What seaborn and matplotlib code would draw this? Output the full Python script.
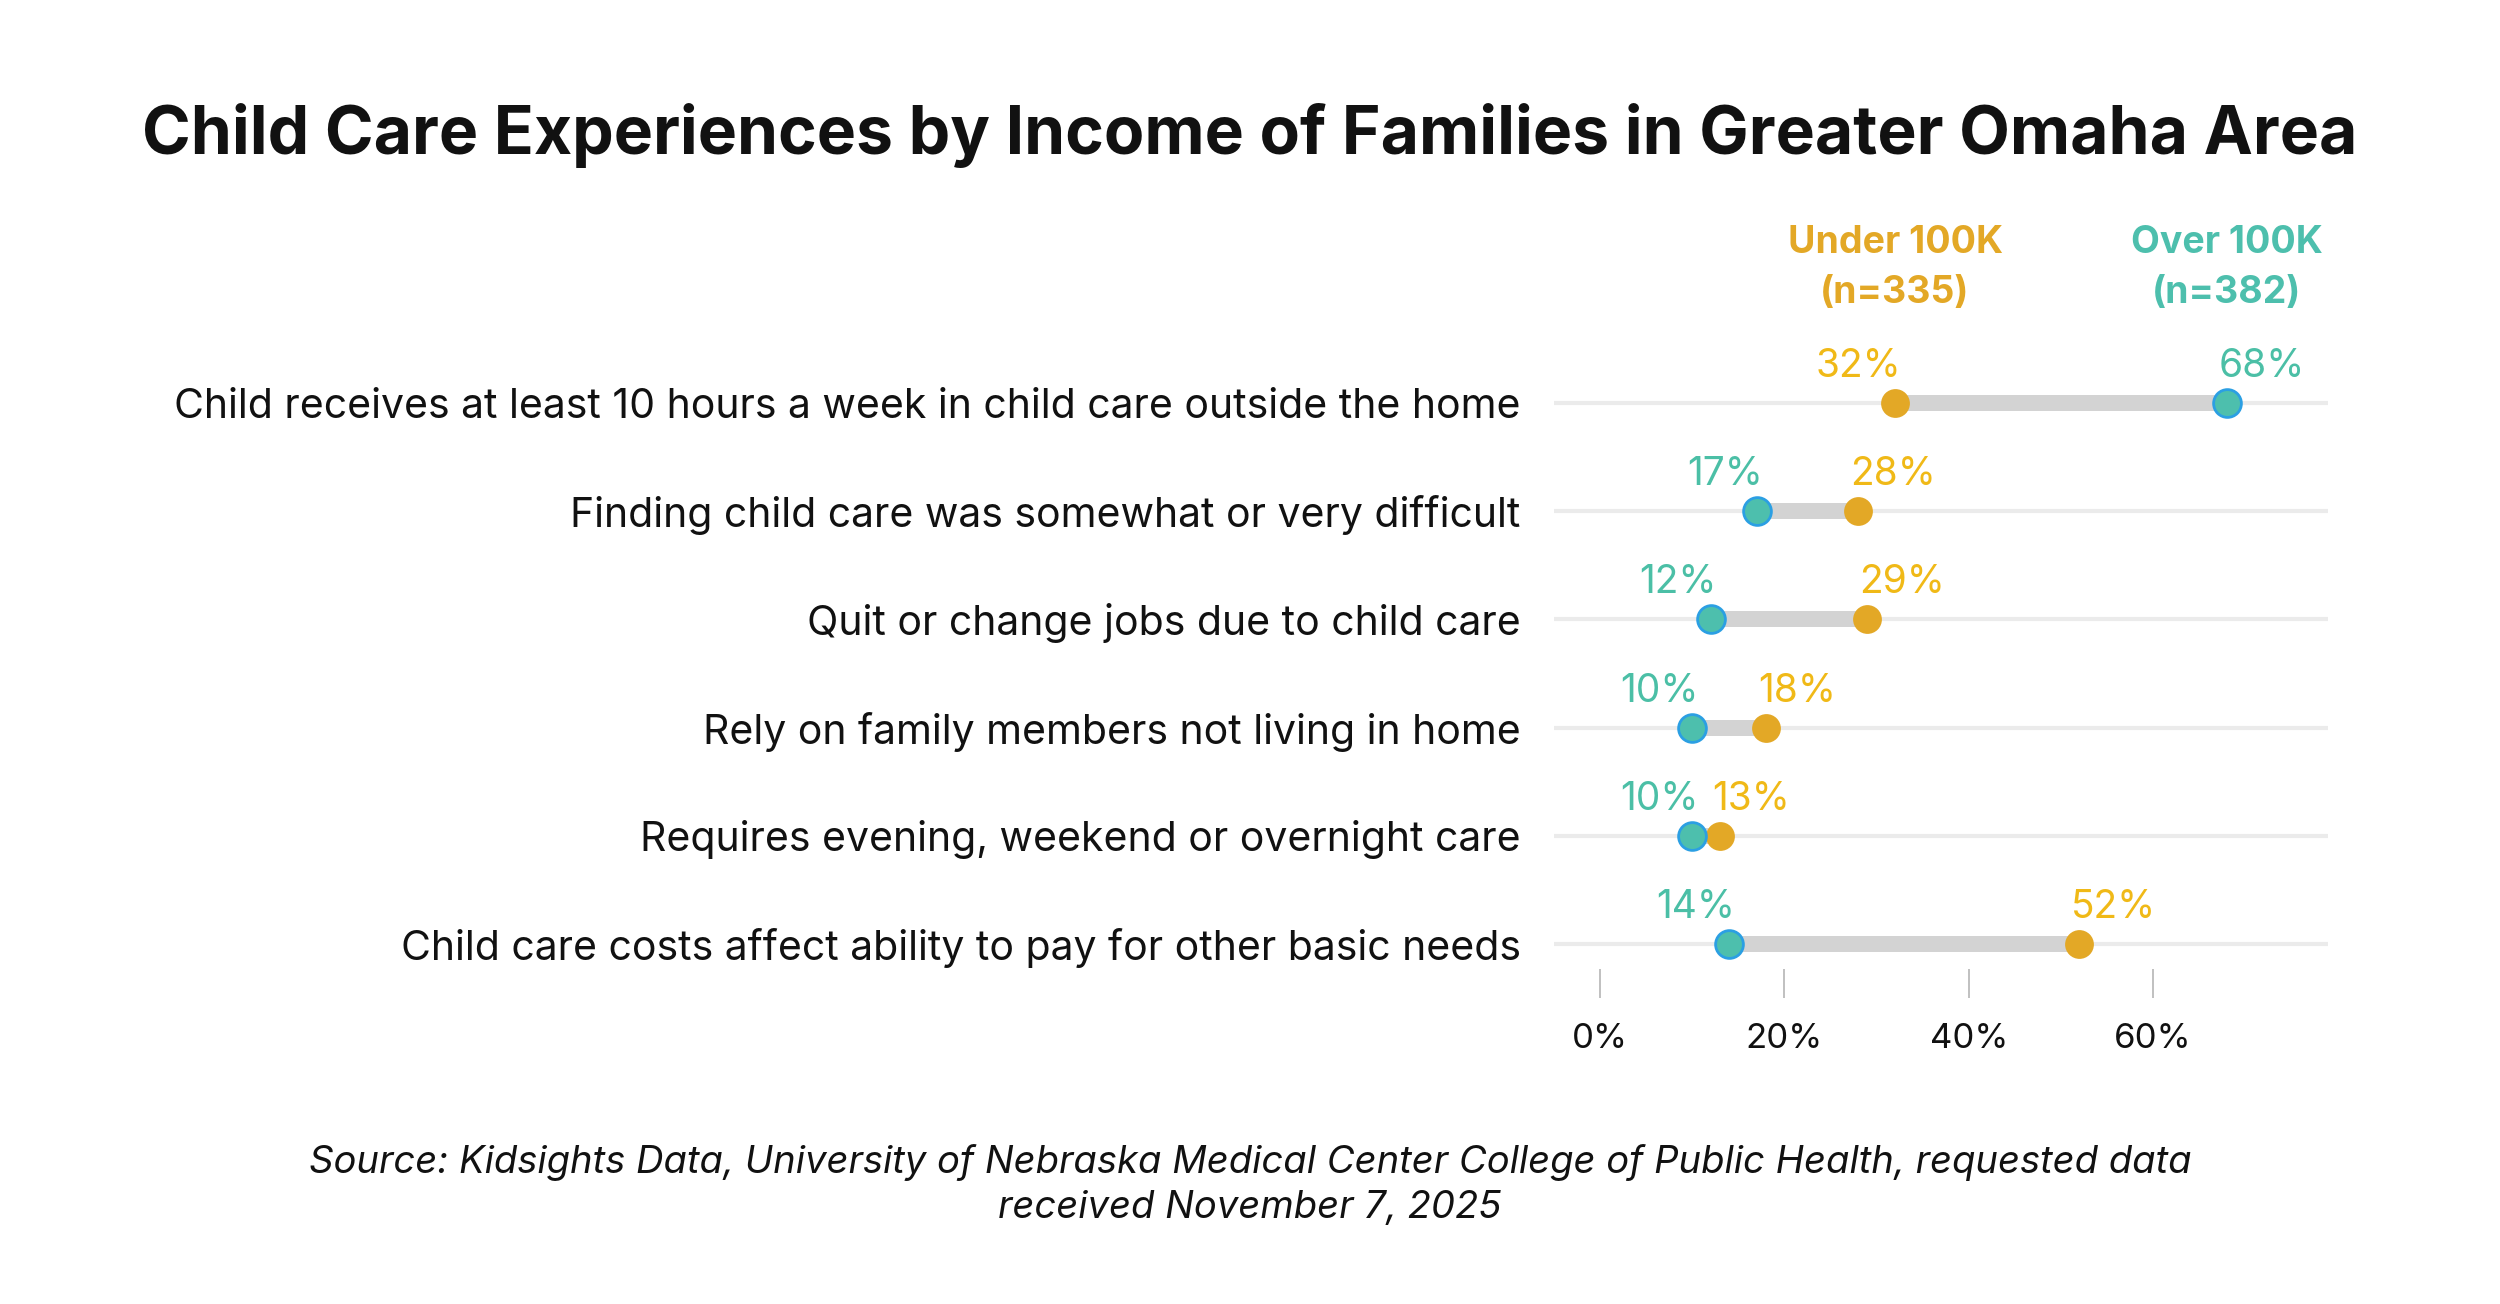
import matplotlib
matplotlib.use("Agg")
import matplotlib.pyplot as plt
import seaborn as sns
import pandas as pd
import numpy as np

categories = [
    "Child receives at least 10 hours a week in child care outside the home",
    "Finding child care was somewhat or very difficult",
    "Quit or change jobs due to child care",
    "Rely on family members not living in home",
    "Requires evening, weekend or overnight care",
    "Child care costs affect ability to pay for other basic needs",
]
under_100k = [32, 28, 29, 18, 13, 52]
over_100k = [68, 17, 12, 10, 10, 14]
group_names = ["Under 100K\n(n=335)", "Over 100K\n(n=382)"]
x_ticks = [0, 20, 40, 60]
tick_labels = ["0%", "20%", "40%", "60%"]
title = "Child Care Experiences by Income of Families in Greater Omaha Area"
source = ("Source: Kidsights Data, University of Nebraska Medical Center College of Public Health, requested data\n"
          "received November 7, 2025")

GOLD = "#e3a826"
GOLD_TXT = "#f0b917"
TEAL = "#4dbfad"
TEAL_TXT = "#4bbfa6"
EDGE = "#2b9fe3"

sns.set_theme(style="white")
plt.rcParams["font.family"] = ["Inter", "DejaVu Sans"]

df = pd.DataFrame({"cat": categories, "under": under_100k, "over": over_100k})
long = pd.concat([
    pd.DataFrame({"cat": categories, "val": under_100k, "grp": "under"}),
    pd.DataFrame({"cat": categories, "val": over_100k, "grp": "over"}),
])

fig = plt.figure(figsize=(25, 13.04), dpi=100)
ax = fig.add_axes([0.6216, 0.2347, 0.3097, 0.4977])
ax.set_xlim(-5, 79)
ypos = np.arange(len(categories))
ax.set_ylim(len(categories) - 0.5, -0.5)

# background tracks
xl = ax.get_xlim()
ax.hlines(ypos, xl[0], xl[1], color="#ebebeb", lw=3, zorder=0)
# connecting bars
ax.hlines(ypos, df[["under", "over"]].min(axis=1), df[["under", "over"]].max(axis=1),
          color="#d3d3d3", lw=11.5, zorder=1)

sns.scatterplot(data=long[long.grp == "under"], x="val", y="cat", color=GOLD, s=430,
                edgecolor=GOLD, linewidth=0, ax=ax, zorder=3, legend=False)
sns.scatterplot(data=long[long.grp == "over"], x="val", y="cat", color=TEAL, s=400,
                edgecolor=EDGE, linewidth=2, ax=ax, zorder=4, legend=False)

# value labels
for i, (u, o) in enumerate(zip(under_100k, over_100k)):
    lo_is_under = u < o
    for v, col, is_low in [(u, GOLD_TXT, lo_is_under), (o, TEAL_TXT, not lo_is_under)]:
        if is_low:
            ax.annotate(f"{v}%", (v, i), xytext=(6, 18), textcoords="offset pixels",
                        ha="right", va="bottom", color=col, fontsize=28)
        else:
            ax.annotate(f"{v}%", (v, i), xytext=(-8, 18), textcoords="offset pixels",
                        ha="left", va="bottom", color=col, fontsize=28)

# group headers above first row dots
for name, v, col in [(group_names[0], under_100k[0], GOLD), (group_names[1], over_100k[0], TEAL)]:
    ax.annotate(name, (v, 0), xytext=(0, 92), textcoords="offset pixels",
                ha="center", va="bottom", color=col, fontsize=27, fontweight="bold",
                linespacing=1.5)

ax.set_yticks(ypos)
ax.set_yticklabels(categories, fontsize=29.5, color="#111111")
ax.tick_params(axis="y", length=0, pad=24)
ax.set_xticks(x_ticks)
ax.set_xticklabels(tick_labels, fontsize=25, color="#111111")
ax.tick_params(axis="x", bottom=True, direction="in", length=21, width=1.2,
               color="#b5b5b5", pad=18)
for s in ax.spines.values():
    s.set_visible(False)
ax.set_xlabel("")
ax.set_ylabel("")
ax.grid(False)

fig.text(0.5, 1 - 136 / 1304, title, ha="center", va="center", fontsize=47.5,
         fontweight="bold", color="#111111")
fig.text(0.5, 1 - 1185 / 1304, source, ha="center", va="center", fontsize=27.5,
         style="italic", color="#111111", linespacing=1.3)

fig.savefig("out.png", dpi=100, facecolor="white")
